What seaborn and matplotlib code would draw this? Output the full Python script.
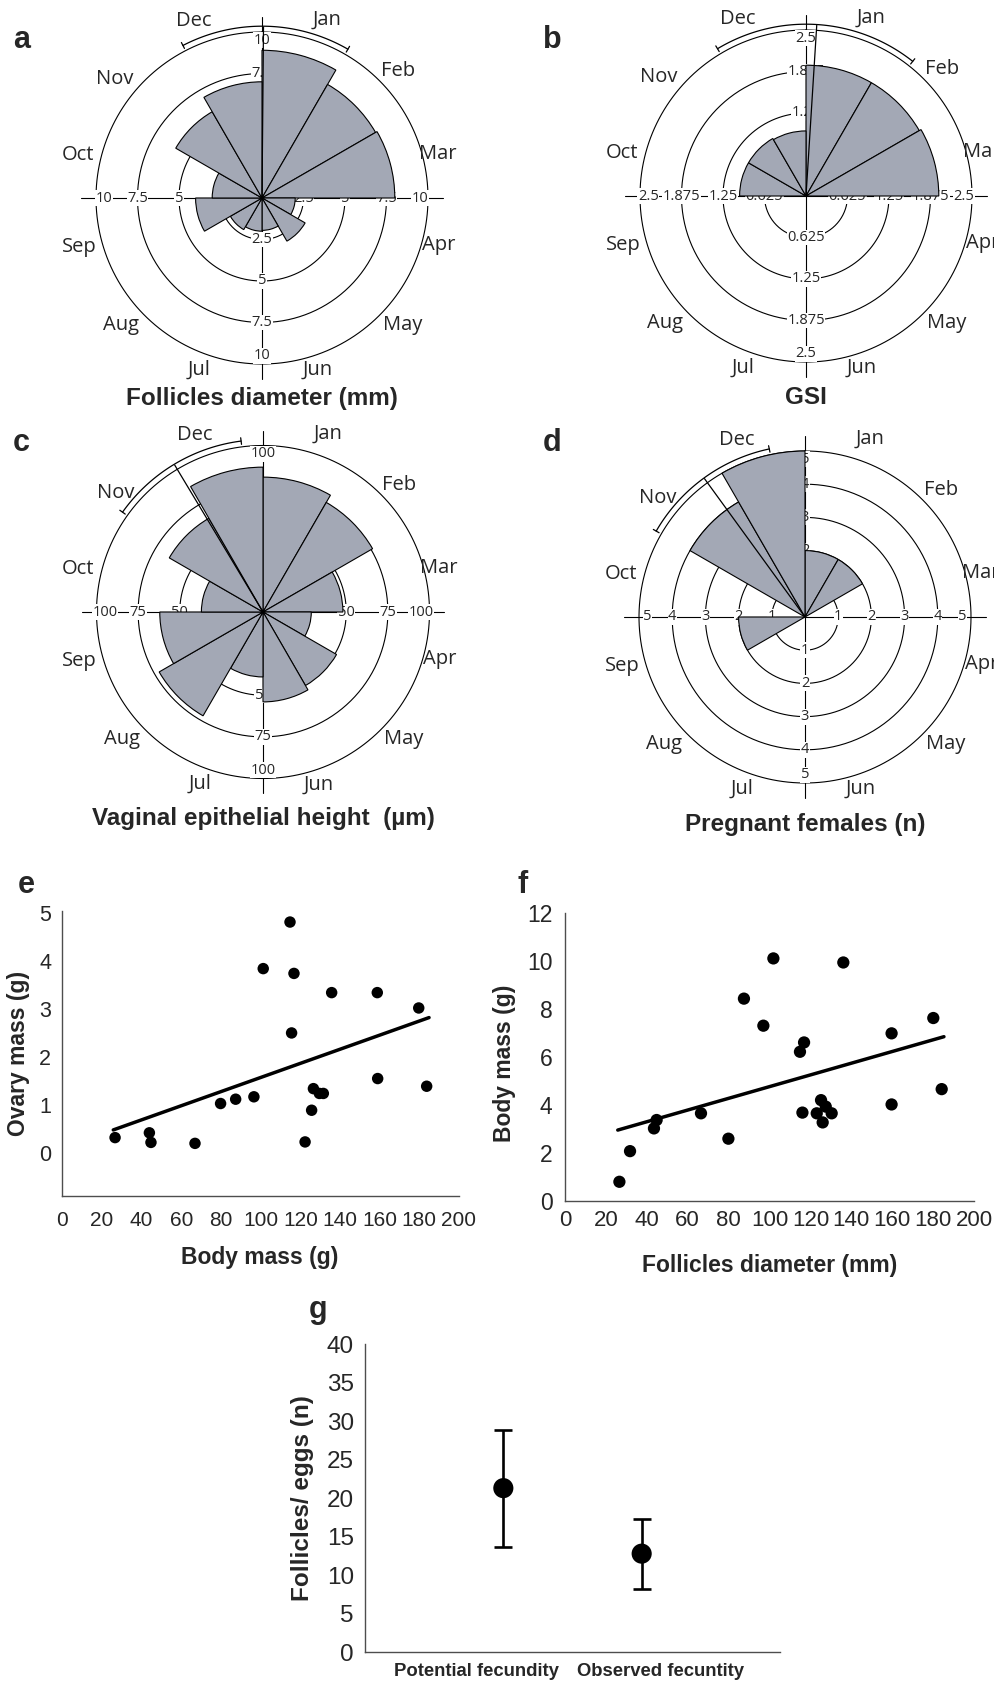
import numpy as np
import pandas as pd
import seaborn as sns
import matplotlib.pyplot as plt

W, H = 995, 1685

months = ["Jan", "Feb", "Mar", "Apr", "May", "Jun",
          "Jul", "Aug", "Sep", "Oct", "Nov", "Dec"]

# a-d: monthly values (rose diagrams)
follicle_diam = [8.9, 7.9, 8.0, 2.0, 3.0, 1.95, 2.0, 2.2, 4.0, 3.0, 6.0, 7.0]
gsi = [1.97, 1.97, 2.0, 0, 0, 0, 0, 0, 0, 1.0, 1.0, 0.98]
vaginal_height = [81, 76, 48, 29, 51, 54, 39, 72, 62, 37, 65, 87]
pregnant = [2, 2, 0, 0, 0, 0, 0, 0, 2, 0, 4, 5]

# mean direction and 95% CI (degrees)
mean_dir = [0.5, 3.6, 329, 324]
ci_dir = [(332.6, 390), (329, 398.4), (305.4, 352.7), (300, 348)]

rings_a = [2.5, 5, 7.5, 10]
rings_b = [0.625, 1.25, 1.875, 2.5]
rings_c = [50, 75, 100]
rings_d = [1, 2, 3, 4, 5]
ring_labels_a = ["2.5", "5", "7.5", "10"]
ring_labels_b = ["0.625", "1.25", "1.875", "2.5"]
ring_labels_c = ["50", "75", "100"]
ring_labels_d = ["1", "2", "3", "4", "5"]

# e: body mass vs ovary mass
body_mass_e = [26.6, 43.9, 44.7, 66.9, 79.8, 87.4, 96.6, 101.3, 114.8, 116.8, 115.6,
               122.4, 125.7, 126.6, 129.6, 131.6, 135.8, 158.8, 159.0, 179.7, 183.7]
ovary_mass = [0.33, 0.43, 0.23, 0.21, 1.04, 1.13, 1.18, 3.85, 4.82, 3.75, 2.51,
              0.24, 0.90, 1.35, 1.25, 1.25, 3.35, 3.35, 1.56, 3.03, 1.40]
trend_e_x = [25.7, 184.9]
trend_e_y = [0.49, 2.83]

# f: follicles diameter vs body mass
follicle_x = [26.6, 31.8, 43.5, 44.8, 66.5, 79.9, 87.5, 97.0, 101.9, 114.9, 116.9,
              116.1, 123.1, 125.2, 127.5, 126.0, 130.4, 136.1, 159.7, 159.7, 180.1, 184.2]
body_mass_f = [0.79, 2.07, 3.02, 3.37, 3.65, 2.59, 8.44, 7.31, 10.12, 6.22, 6.61,
               3.68, 3.65, 4.2, 3.93, 3.27, 3.65, 9.95, 6.99, 4.02, 7.63, 4.66]
trend_f_x = [25.8, 185.3]
trend_f_y = [2.95, 6.85]

# g: fecundity
fec_labels = ["Potential fecundity", "Observed fecuntity"]
fec_mean = [21.3, 12.8]
fec_err_lo = [7.7, 4.6]
fec_err_hi = [7.55, 4.45]

sns.set_style("white")
plt.rcParams["font.family"] = ["Liberation Sans", "DejaVu Sans"]

FILL = "#a3a8b5"
MONTH_FONT = ["Open Sans", "DejaVu Sans"]
label_ang = [20, 47, 76, 105, 132, 162, 200, 228, 255, 283, 309, 339]
label_rad = [1.14, 1.12, 1.09, 1.10, 1.14, 1.09, 1.10, 1.14, 1.14, 1.14, 1.14, 1.14]

fig = plt.figure(figsize=(W / 100, H / 100), dpi=100)


def fx(px):
    return px / W


def fy(py):
    return 1 - py / H


def rose(cx, cy, R, values, rings, labels, mean_d, ci, title, title_y, letter, letter_xy):
    K = 1.25
    Hp = K * R
    ax = fig.add_axes([fx(cx - Hp), fy(cy + Hp), 2 * Hp / W, 2 * Hp / H],
                      projection="polar")
    rmax = rings[-1]
    ax.set_theta_zero_location("N")
    ax.set_theta_direction(-1)
    ax.set_rlim(0, K * rmax)
    ax.grid(False)
    ax.set_xticks([])
    ax.set_yticks([])
    ax.spines["polar"].set_visible(False)
    ax.patch.set_visible(False)

    full = np.linspace(0, 2 * np.pi, 400)
    for r in rings:
        ax.plot(full, np.full_like(full, r), color="k", lw=0.8, zorder=1)
    for a in (0, 90, 180, 270):
        ax.plot([np.deg2rad(a)] * 2, [0, 1.09 * rmax], color="k", lw=0.8, zorder=1)
    for r, lab in zip(rings, labels):
        rr = r - 0.05 * rmax if r == rmax else r
        for a in (0, 90, 180, 270):
            ax.text(np.deg2rad(a), rr, lab, ha="center", va="center", fontsize=10.5,
                    family=MONTH_FONT, zorder=2,
                    bbox=dict(fc="white", ec="none", pad=0.3))

    theta = np.deg2rad(np.arange(len(values)) * 30 + 15)
    ax.bar(theta, values, width=np.deg2rad(30), bottom=0, color=FILL,
           edgecolor="k", lw=0.8, zorder=3)

    m = np.deg2rad(mean_d)
    ax.plot([m, m], [0, 1.03 * rmax], color="k", lw=0.9, zorder=4)
    arc = np.deg2rad(np.linspace(ci[0], ci[1], 100))
    ax.plot(arc, np.full_like(arc, 1.035 * rmax), color="k", lw=0.9, zorder=4)
    for e in ci:
        ax.plot([np.deg2rad(e)] * 2, [1.015 * rmax, 1.055 * rmax], color="k", lw=0.9, zorder=4)

    for mo, a, rr in zip(months, label_ang, label_rad):
        ax.text(np.deg2rad(a), rr * rmax, mo, ha="center", va="center",
                fontsize=14.5, family=MONTH_FONT)

    fig.text(fx(cx), fy(title_y), title, ha="center", va="center",
             fontsize=17.5, fontweight="bold")
    fig.text(fx(letter_xy[0]), fy(letter_xy[1]), letter, ha="left", va="baseline",
             fontsize=22, fontweight="bold")
    return ax


rose(262, 198, 166, follicle_diam, rings_a, ring_labels_a, mean_dir[0], ci_dir[0],
     "Follicles diameter (mm)", 399, "a", (13, 48))
rose(806, 196, 166, gsi, rings_b, ring_labels_b, mean_dir[1], ci_dir[1],
     "GSI", 398, "b", (543, 48))
rose(263, 612, 166.5, vaginal_height, rings_c, ring_labels_c, mean_dir[2], ci_dir[2],
     "Vaginal epithelial height  (\u00b5m)", 818, "c", (13, 451))
rose(805, 617, 166, pregnant, rings_d, ring_labels_d, mean_dir[3], ci_dir[3],
     "Pregnant females (n)", 825, "d", (543, 451))

SPINE = "#4d4d4d"


def style_axes(ax):
    sns.despine(ax=ax)
    for s in ("left", "bottom"):
        ax.spines[s].set_color(SPINE)
        ax.spines[s].set_linewidth(1.0)


# e
ax_e = fig.add_axes([fx(62.3), fy(1195.7), (459 - 62.3) / W, (1195.7 - 911) / H])
sns.scatterplot(x=body_mass_e, y=ovary_mass, ax=ax_e, color="k", s=68,
                edgecolor="none", zorder=3)
sns.lineplot(x=trend_e_x, y=trend_e_y, ax=ax_e, color="k", lw=2.5)
ax_e.set_xlim(0, 200)
ax_e.set_ylim(-0.88, 5.05)
ax_e.set_xticks(range(0, 201, 20))
ax_e.set_yticks(range(0, 6))
style_axes(ax_e)
ax_e.tick_params(axis="x", direction="in", length=2.5, color=SPINE, labelsize=15, pad=11)
ax_e.tick_params(axis="y", length=0, labelsize=15.5, pad=8)
fig.text(fx(260), fy(1257), "Body mass (g)", ha="center", va="center",
         fontsize=16.5, fontweight="bold")
fig.text(fx(18.5), fy(1053), "Ovary mass (g)", ha="center", va="center",
         rotation=90, fontsize=16.5, fontweight="bold")
fig.text(fx(18), fy(893), "e", ha="left", va="baseline", fontsize=22, fontweight="bold")

# f
ax_f = fig.add_axes([fx(565), fy(1200.7), (974 - 565) / W, (1200.7 - 913.4) / H])
sns.scatterplot(x=follicle_x, y=body_mass_f, ax=ax_f, color="k", s=78,
                edgecolor="none", zorder=3)
sns.lineplot(x=trend_f_x, y=trend_f_y, ax=ax_f, color="k", lw=2.5)
ax_f.set_xlim(0, 200)
ax_f.set_ylim(0, 12)
ax_f.set_xticks(range(0, 201, 20))
ax_f.set_yticks(range(0, 13, 2))
style_axes(ax_f)
ax_f.tick_params(axis="x", direction="in", length=2.5, color=SPINE, labelsize=16, pad=7)
ax_f.tick_params(axis="y", direction="out", length=3, color=SPINE, labelsize=16.5, pad=6)
fig.text(fx(770), fy(1265), "Follicles diameter (mm)", ha="center", va="center",
         fontsize=16.5, fontweight="bold")
fig.text(fx(505), fy(1063), "Body mass (g)", ha="center", va="center",
         rotation=90, fontsize=16.5, fontweight="bold")
fig.text(fx(518), fy(893), "f", ha="left", va="baseline", fontsize=22, fontweight="bold")

# g
ax_g = fig.add_axes([fx(365), fy(1652.3), (780 - 365) / W, (1652.3 - 1344) / H])
pos = np.arange(1, len(fec_labels) + 1)
ax_g.errorbar(pos, fec_mean, yerr=[fec_err_lo, fec_err_hi], fmt="none", ecolor="k",
              elinewidth=1.9, capsize=6.7, capthick=1.9, zorder=2)
sns.scatterplot(x=pos, y=fec_mean, ax=ax_g, color="k", s=210, edgecolor="none", zorder=3)
ax_g.set_xlim(0, 3)
ax_g.set_ylim(0, 40)
ax_g.set_xticks(pos)
ax_g.set_xticklabels([])
ax_g.set_yticks(range(0, 41, 5))
style_axes(ax_g)
ax_g.tick_params(axis="x", direction="out", length=4, color=SPINE)
ax_g.tick_params(axis="y", length=0, labelsize=17.5, pad=8)
for lab, xc in zip(fec_labels, (476, 661)):
    fig.text(fx(xc), fy(1671), lab, ha="center", va="center",
             fontsize=13.3, fontweight="bold")
fig.text(fx(303), fy(1498), "Follicles/ eggs (n)", ha="center", va="center",
         rotation=90, fontsize=17.5, fontweight="bold")
fig.text(fx(309), fy(1318), "g", ha="left", va="baseline", fontsize=22, fontweight="bold")

fig.savefig("out.png", dpi=100)
